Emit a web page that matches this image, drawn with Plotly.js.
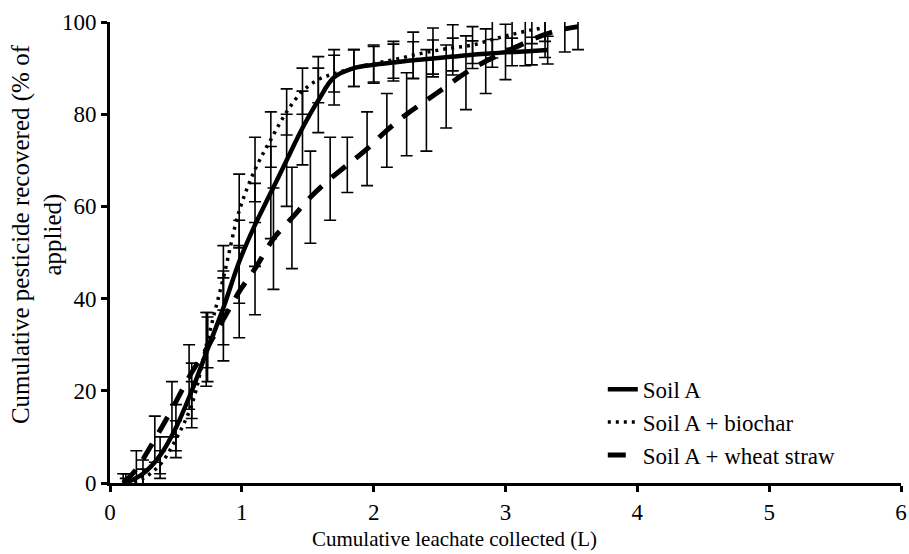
<!DOCTYPE html>
<html>
<head>
<meta charset="utf-8">
<script src="https://cdn.plot.ly/plotly-3.0.1.min.js"></script>
<style>html,body{margin:0;padding:0;background:#fff;}#chart{width:909px;height:554px;}</style>
</head>
<body>
<div id="chart"></div>
<script>
// Soil A
var soilX = [0.12,0.25,0.38,0.5,0.62,0.74,0.86,0.98,1.1,1.22,1.34,1.46,1.58,1.7,1.85,2.0,2.15,2.3,2.45,2.6,2.75,2.9,3.05,3.2,3.32];
var soilY = [0,2,6,12,20,29,38,48,56,63,70,77,83,88,90,90.7,91.2,91.7,92.1,92.5,92.9,93.2,93.5,93.7,93.9];
var soilErr = [2,3,4,5,6,7,8,9,9,10,10,8,7,6,4,4,4,4,4,4,3,3,3,3,3];
// Soil A + biochar
var bioX = [0.12,0.25,0.38,0.5,0.62,0.74,0.86,0.98,1.1,1.22,1.34,1.46,1.58,1.7,1.85,2.0,2.15,2.3,2.45,2.6,2.75,2.9,3.05,3.2,3.3];
var bioY = [0,1,4,9.5,17,31,44.5,59,68,74.5,80.5,85,87.5,88.8,90,91,91.8,92.8,93.7,94.4,95,96.2,97.3,98.3,98.8];
var bioErr = [1,2,3,4,5,6,7,8,7,6,5,5,5,4,4,4,4,5,5,5,4,4,3,3,3];
// Soil A + wheat straw
var strawX = [0.1,0.2,0.34,0.47,0.6,0.73,0.86,0.98,1.1,1.24,1.38,1.52,1.67,1.8,1.95,2.1,2.25,2.4,2.55,2.7,2.85,3.0,3.15,3.3,3.45,3.55];
var strawY = [0,3,9.5,16,23,29,35.5,41.5,46.5,53,57.5,62,66,69,72.5,76.5,80,83,86,89,91.5,93.5,95.5,97.3,98.5,99];
var strawErr = [2,4,5,6,7,8,9,10,10,11,11,10,9,6,8,8,9,11,9,8,7,6,5,5,5,5];

var seriesNames = ['Soil A','Soil A + biochar','Soil A + wheat straw'];

function mk(x, y, e, name, dash, w) {
  return {
    x: x, y: y, name: name, type: 'scatter', mode: 'lines',
    line: {color: '#000', width: w, dash: dash, shape: 'spline', smoothing: 1},
    error_y: {type: 'data', array: e, visible: true, color: '#000', thickness: 1.6, width: 6}
  };
}

var data = [
  mk(soilX, soilY, soilErr, seriesNames[0], 'solid', 4.5),
  mk(bioX, bioY, bioErr, seriesNames[1], '3px,5px', 3.5),
  mk(strawX, strawY, strawErr, seriesNames[2], '18px,13px', 5)
];

var fam = '"Liberation Serif", "Times New Roman", serif';
function f(s) { return {family: fam, size: s, color: '#000'}; }

var layout = {
  width: 909, height: 554,
  margin: {l: 110, r: 8, t: 22, b: 71},
  paper_bgcolor: '#fff', plot_bgcolor: '#fff',
  font: f(21),
  showlegend: true,
  legend: {x: 0.623, y: 0.25, xanchor: 'left', yanchor: 'top', bgcolor: 'rgba(0,0,0,0)',
           font: f(23), tracegroupgap: 0},
  xaxis: {
    range: [0, 6], dtick: 1, tick0: 0, showgrid: false, zeroline: false,
    showline: true, linecolor: '#000', linewidth: 3,
    ticks: 'outside', ticklen: 6, tickwidth: 3, tickcolor: '#000',
    tickfont: f(23)
  },
  yaxis: {
    range: [0, 100], dtick: 20, tick0: 0, showgrid: false, zeroline: false,
    showline: true, linecolor: '#000', linewidth: 3,
    ticks: 'outside', ticklen: 6, tickwidth: 3, tickcolor: '#000',
    tickfont: f(23), automargin: false
  },
  annotations: [{
    text: 'Cumulative pesticide recovered (% of<br>applied)',
    xref: 'paper', yref: 'paper', x: 0, y: 0.54, xanchor: 'center', yanchor: 'middle',
    xshift: -73, textangle: -90, showarrow: false, font: f(25), align: 'center'
  }, {
    text: 'Cumulative leachate collected (L)',
    xref: 'paper', yref: 'paper', x: (454 - 110) / 791, y: 0, xanchor: 'center', yanchor: 'middle',
    yshift: -56, showarrow: false, font: f(21)
  }]
};

Plotly.newPlot('chart', data, layout, {displayModeBar: false, staticPlot: true});
</script>
</body>
</html>
